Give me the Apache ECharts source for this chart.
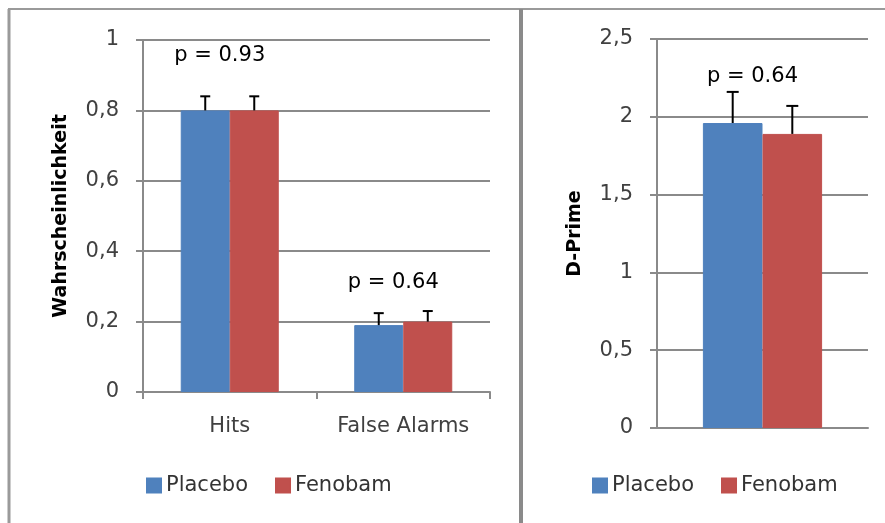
<!DOCTYPE html>
<html><head><meta charset="utf-8">
<script src="https://cdn.jsdelivr.net/npm/echarts@6.0.0/dist/echarts.min.js"></script>
<style>html,body{margin:0;padding:0;background:#fff}#c{width:885px;height:523px}</style>
</head><body><div id="c"></div>
<script>
// ---- data ----
const seriesNames = ['Placebo', 'Fenobam'];
const leftCategories = ['Hits', 'False Alarms'];
const leftPlacebo = [0.80, 0.19];
const leftFenobam = [0.80, 0.20];
const leftPlaceboErr = [0.04, 0.034];
const leftFenobamErr = [0.04, 0.03];
const leftYMin = 0, leftYMax = 1, leftYStep = 0.2;
const leftPLabels = ['p = 0.93', 'p = 0.64'];
const leftPLabelY = [0.957, 0.31];
const rightCategories = ['D-Prime'];
const rightPlacebo = [1.96];
const rightFenobam = [1.89];
const rightPlaceboErr = [0.20];
const rightFenobamErr = [0.18];
const rightYMin = 0, rightYMax = 2.5, rightYStep = 0.5;
const rightPLabels = ['p = 0.64'];
const rightPLabelY = [2.256];
const leftYTitle = 'Wahrscheinlichkeit';
const rightYTitle = 'D-Prime';

// ---- styles ----
const FONT = 'DejaVu Sans';
const colors = ['#4F81BD', '#C0504D'];
const GAP = 0.435;
const gridGray = '#8a8a8a';

function fmt(v) { return String(Math.round(v * 10) / 10).replace('.', ','); }

function errRenderer(sIdx, nSeries, capW) {
  return function (params, api) {
    const cat = api.value(0), val = api.value(1), err = api.value(2);
    const c = api.coord([cat, val]);
    const band = api.size([1, 0])[0];
    const bw = band * (1 - GAP) / nSeries;
    const x = c[0] + (sIdx - (nSeries - 1) / 2) * bw;
    const top = api.coord([cat, val + err])[1];
    return {
      type: 'group', children: [
        { type: 'line', shape: { x1: x, y1: c[1], x2: x, y2: top }, style: { stroke: '#000', lineWidth: 2 } },
        { type: 'line', shape: { x1: x - capW / 2, y1: top, x2: x + capW / 2, y2: top }, style: { stroke: '#000', lineWidth: 2 } }
      ]
    };
  };
}
function labelRenderer(texts) {
  return function (params, api) {
    const p = api.coord([api.value(0), api.value(1)]);
    return {
      type: 'text', x: p[0] - 10, y: p[1],
      style: { text: texts[params.dataIndex], font: '21px "' + FONT + '"', fill: '#000', align: 'center', verticalAlign: 'middle' }
    };
  };
}

function yAxisCfg(grid, min, max, step, title) {
  return {
    gridIndex: grid, type: 'value', min: min, max: max, interval: step,
    axisLine: { show: true, lineStyle: { color: gridGray, width: 2 } },
    axisTick: { show: true, length: 7, lineStyle: { color: gridGray, width: 2 } },
    splitLine: { show: true, lineStyle: { color: gridGray, width: 2 } },
    axisLabel: { fontFamily: FONT, fontSize: 21, color: '#404040', margin: 24, formatter: fmt },
    name: title, nameLocation: 'middle', nameGap: 72,
    nameTextStyle: { fontFamily: FONT, fontSize: 19, fontWeight: 'bold', color: '#000' }
  };
}

function barItem(i) {
  return { color: colors[i], borderColor: colors[i], borderWidth: 1 };
}

const option = {
  animation: false,
  backgroundColor: '#fff',
  color: colors,
  grid: [
    { left: 143, top: 40, width: 347, height: 352 },
    { left: 657, top: 39, width: 211, height: 389 }
  ],
  xAxis: [
    {
      gridIndex: 0, type: 'category', data: leftCategories,
      axisLine: { lineStyle: { color: gridGray, width: 2 } },
      axisTick: { show: true, length: 7, lineStyle: { color: gridGray, width: 2 } },
      axisLabel: { fontFamily: FONT, fontSize: 21, color: '#404040', margin: 24 }
    },
    {
      gridIndex: 1, type: 'category', data: rightCategories,
      axisLine: { lineStyle: { color: gridGray, width: 2 } },
      axisTick: { show: false }, axisLabel: { show: false }
    }
  ],
  yAxis: [
    yAxisCfg(0, leftYMin, leftYMax, leftYStep, leftYTitle),
    yAxisCfg(1, rightYMin, rightYMax, rightYStep, rightYTitle)
  ],
  legend: [0, 1].map(i => ({
    left: i === 0 ? 141 : 587, top: 470,
    data: seriesNames, icon: 'rect', itemWidth: 14, itemHeight: 14, itemGap: 27,
    selectedMode: false,
    textStyle: { fontFamily: FONT, fontSize: 21, color: '#333' }
  })),
  series: [
    { name: seriesNames[0], type: 'bar', xAxisIndex: 0, yAxisIndex: 0, data: leftPlacebo, barGap: '0%', barCategoryGap: (GAP * 100) + '%', itemStyle: barItem(0), z: 2 },
    { name: seriesNames[1], type: 'bar', xAxisIndex: 0, yAxisIndex: 0, data: leftFenobam, barGap: '0%', barCategoryGap: (GAP * 100) + '%', itemStyle: barItem(1), z: 2 },
    { name: seriesNames[0], type: 'bar', xAxisIndex: 1, yAxisIndex: 1, data: rightPlacebo, barGap: '0%', barCategoryGap: (GAP * 100) + '%', itemStyle: barItem(0), z: 2 },
    { name: seriesNames[1], type: 'bar', xAxisIndex: 1, yAxisIndex: 1, data: rightFenobam, barGap: '0%', barCategoryGap: (GAP * 100) + '%', itemStyle: barItem(1), z: 2 },
    { type: 'custom', xAxisIndex: 0, yAxisIndex: 0, renderItem: errRenderer(0, 2, 10), data: leftPlacebo.map((v, i) => [i, v, leftPlaceboErr[i]]), z: 3 },
    { type: 'custom', xAxisIndex: 0, yAxisIndex: 0, renderItem: errRenderer(1, 2, 10), data: leftFenobam.map((v, i) => [i, v, leftFenobamErr[i]]), z: 3 },
    { type: 'custom', xAxisIndex: 1, yAxisIndex: 1, renderItem: errRenderer(0, 2, 12), data: rightPlacebo.map((v, i) => [i, v, rightPlaceboErr[i]]), z: 3 },
    { type: 'custom', xAxisIndex: 1, yAxisIndex: 1, renderItem: errRenderer(1, 2, 12), data: rightFenobam.map((v, i) => [i, v, rightFenobamErr[i]]), z: 3 },
    { type: 'custom', xAxisIndex: 0, yAxisIndex: 0, renderItem: labelRenderer(leftPLabels), data: leftPLabelY.map((v, i) => [i, v]), z: 4 },
    { type: 'custom', xAxisIndex: 1, yAxisIndex: 1, renderItem: labelRenderer(rightPLabels), data: rightPLabelY.map((v, i) => [i, v]), z: 4 }
  ],
  graphic: [
    { type: 'line', shape: { x1: 8, y1: 9, x2: 885, y2: 9 }, style: { stroke: '#9a9a9a', lineWidth: 2 } },
    { type: 'line', shape: { x1: 9, y1: 9, x2: 9, y2: 523 }, style: { stroke: '#9a9a9a', lineWidth: 3 } },
    { type: 'line', shape: { x1: 521, y1: 9, x2: 521, y2: 523 }, style: { stroke: '#8a8a8a', lineWidth: 4 } }
  ]
};
echarts.init(document.getElementById('c'), null, { renderer: 'canvas' }).setOption(option);
</script></body></html>
